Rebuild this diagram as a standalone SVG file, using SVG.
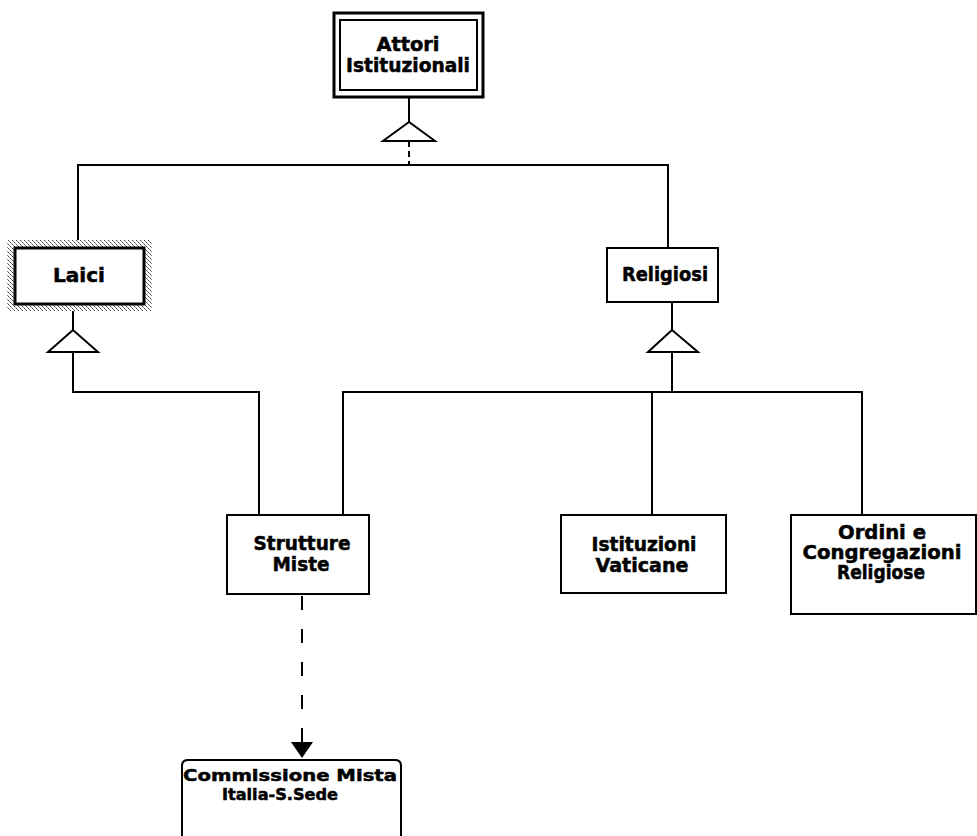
<svg xmlns="http://www.w3.org/2000/svg" width="977" height="836" viewBox="0 0 977 836">
  <style>
    .box { fill: #fff; stroke: #000; stroke-width: 2; }
    .thick { stroke-width: 3; }
    .line { fill: none; stroke: #000; stroke-width: 2; }
    .dash { fill: none; stroke: #000; stroke-width: 2; }
    .tri { fill: #fff; stroke: #000; stroke-width: 2; stroke-linejoin: miter; }
    text { font-family: "DejaVu Sans", "Liberation Sans", Arial, sans-serif; font-weight: bold; font-size: 19px; fill: #000; stroke: #000; stroke-width: 0.5; text-anchor: middle; }
    .small { font-size: 16px; }
  </style>
  <defs>
    <pattern id="hatch" width="4" height="4" patternUnits="userSpaceOnUse">
      <rect width="4" height="4" fill="#fff"/>
      <rect x="0" y="0" width="1" height="1" fill="#444"/>
      <rect x="1" y="1" width="1" height="1" fill="#888"/>
      <rect x="2" y="2" width="1" height="1" fill="#444"/>
      <rect x="3" y="3" width="1" height="1" fill="#888"/>
    </pattern>
  </defs>
  <rect width="977" height="836" fill="#fff"/>

  <g id="connectors">
    <!-- Attori -> generalization triangle -->
    <line class="line" x1="409" y1="97" x2="409" y2="122"/>
    <line class="dash" x1="409" y1="141" x2="409" y2="165" stroke-dasharray="6 4"/>
    <polyline class="line" points="78,248 78,165 668,165 668,248"/>
    <polygon class="tri" points="409,122 383,141 435,141"/>

    <!-- Laici generalization -->
    <line class="line" x1="73" y1="311" x2="73" y2="330"/>
    <polyline class="line" points="73,352 73,392 259,392 259,515"/>
    <polygon class="tri" points="73,330 48,352 98,352"/>

    <!-- Religiosi generalization -->
    <line class="line" x1="672" y1="302" x2="672" y2="330"/>
    <line class="line" x1="672" y1="352" x2="672" y2="392"/>
    <polyline class="line" points="343,515 343,392 862,392 862,515"/>
    <line class="line" x1="652" y1="392" x2="652" y2="515"/>
    <polygon class="tri" points="672,330 648,352 698,352"/>

    <!-- Strutture Miste -> Commissione (dashed dependency) -->
    <line class="dash" x1="302" y1="596" x2="302" y2="744" stroke-dasharray="14 19"/>
    <polygon points="291,742 313,742 302,758" fill="#000"/>
  </g>

  <g id="node-attori">
    <rect class="box thick" x="334" y="13" width="149" height="84"/>
    <rect class="box" x="340" y="20" width="137" height="70"/>
    <text x="408" y="51" textLength="63" lengthAdjust="spacingAndGlyphs">Attori</text>
    <text x="408" y="72" textLength="124" lengthAdjust="spacingAndGlyphs">Istituzionali</text>
  </g>

  <g id="node-laici">
    <rect x="7" y="240" width="145" height="71" fill="url(#hatch)"/>
    <rect class="box thick" x="15" y="248" width="129" height="56"/>
    <text x="79" y="282" textLength="52" lengthAdjust="spacingAndGlyphs">Laici</text>
  </g>

  <g id="node-religiosi">
    <rect class="box" x="607" y="248" width="111" height="54"/>
    <text x="665" y="281" textLength="86" lengthAdjust="spacingAndGlyphs">Religiosi</text>
  </g>

  <g id="node-strutture">
    <rect class="box" x="227" y="515" width="142" height="79"/>
    <text x="302" y="550" textLength="97" lengthAdjust="spacingAndGlyphs">Strutture</text>
    <text x="301" y="571" textLength="57" lengthAdjust="spacingAndGlyphs">Miste</text>
  </g>

  <g id="node-istituzioni">
    <rect class="box" x="561" y="515" width="165" height="78"/>
    <text x="644" y="551" textLength="105" lengthAdjust="spacingAndGlyphs">Istituzioni</text>
    <text x="642" y="572" textLength="93" lengthAdjust="spacingAndGlyphs">Vaticane</text>
  </g>

  <g id="node-ordini">
    <rect class="box" x="791" y="515" width="185" height="99"/>
    <text x="882" y="539" textLength="88" lengthAdjust="spacingAndGlyphs">Ordini e</text>
    <text x="882" y="559" textLength="159" lengthAdjust="spacingAndGlyphs">Congregazioni</text>
    <text x="881" y="579" textLength="88" lengthAdjust="spacingAndGlyphs">Religiose</text>
  </g>

  <g id="node-commissione">
    <path class="box" d="M182,850 L182,766 Q182,760 188,760 L395,760 Q401,760 401,766 L401,850"/>
    <text class="small" x="290" y="781" textLength="214" lengthAdjust="spacingAndGlyphs">Commissione Mista</text>
    <text class="small" x="280" y="800" textLength="116" lengthAdjust="spacingAndGlyphs">Italia-S.Sede</text>
  </g>
</svg>
